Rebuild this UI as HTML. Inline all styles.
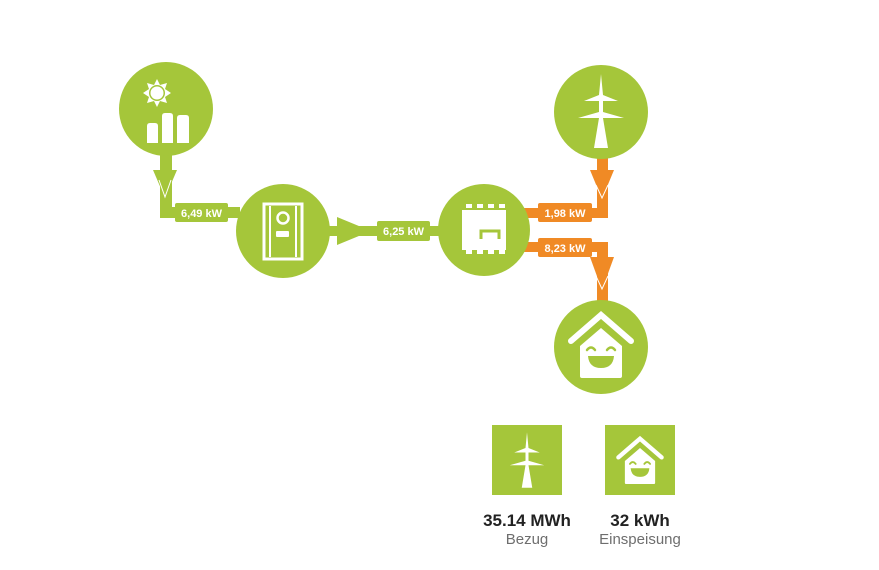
<!DOCTYPE html>
<html><head><meta charset="utf-8"><style>
html,body{margin:0;padding:0;background:#fff;width:879px;height:570px;overflow:hidden}
svg{display:block}
</style></head><body>
<svg width="879" height="570" viewBox="0 0 879 570" xmlns="http://www.w3.org/2000/svg" font-family="Liberation Sans, sans-serif">
<defs><style>.g{fill:#a5c63a}.o{fill:#f08a25}.w{fill:#fff}</style>
<g id="home">
<path d="M571,341 L601,315 L631,341" fill="none" stroke="#fff" stroke-width="6" stroke-linejoin="miter" stroke-linecap="round"/>
<path d="M580,346 L601,328 L622,346 V376 q0,2 -2,2 H582 q-2,0 -2,-2 Z" fill="#fff"/>
<path d="M587,350 q4,-5 8,0 M607,350 q4,-5 8,0" fill="none" stroke="#a5c63a" stroke-width="2.5" stroke-linecap="round"/>
<path d="M588,356 h26 q-1,12 -13,12 q-12,0 -13,-12 z" fill="#a5c63a"/>
</g>
<g id="pylon">
<polygon fill="#fff" points="601,74 603,95 618,101 603,101 603,112 624,118 603,118 608,148 594,148 599,118 578,118 599,112 599,101 584,101 599,95"/>
</g>
</defs>
<!-- solar -> inverter -->
<rect class="g" x="160" y="150" width="12" height="68"/>
<rect class="g" x="160" y="207" width="80" height="11"/>
<polygon class="g" points="153,170 177,170 165,198"/>
<polyline points="159,180 165,197 171,180" fill="none" stroke="#fff" stroke-width="1"/>
<rect class="g" x="175" y="203" width="53" height="19" rx="2"/>
<text x="201.5" y="217" font-size="11" font-weight="bold" fill="#fff" text-anchor="middle">6,49 kW</text>
<!-- inverter -> storage -->
<rect class="g" x="325" y="226" width="120" height="10"/>
<polygon class="g" points="337,217 371,231 337,245"/>
<rect class="g" x="377" y="221" width="53" height="20" rx="2"/>
<text x="403.5" y="235" font-size="11" font-weight="bold" fill="#fff" text-anchor="middle">6,25 kW</text>
<!-- grid -> storage (orange) -->
<rect class="o" x="597" y="150" width="11" height="68"/>
<rect class="o" x="520" y="208" width="88" height="10"/>
<polygon class="o" points="590,170 614,170 602,199"/>
<polyline points="596,185 602,198 608,185" fill="none" stroke="#fff" stroke-width="1"/>
<rect class="o" x="538" y="203" width="54" height="19" rx="2"/>
<text x="565" y="217" font-size="11" font-weight="bold" fill="#fff" text-anchor="middle">1,98 kW</text>
<!-- storage -> home -->
<rect class="o" x="520" y="242" width="88" height="10"/>
<rect class="o" x="597" y="242" width="11" height="65"/>
<polygon class="o" points="590,257 614,257 602,290"/>
<polyline points="596,276 602,289 608,276" fill="none" stroke="#fff" stroke-width="1"/>
<rect class="o" x="538" y="238" width="54" height="19" rx="2"/>
<text x="565" y="252" font-size="11" font-weight="bold" fill="#fff" text-anchor="middle">8,23 kW</text>
<!-- circles -->
<circle class="g" cx="166" cy="109" r="47"/>
<circle class="g" cx="283" cy="231" r="47"/>
<circle class="g" cx="484" cy="230" r="46"/>
<circle class="g" cx="601" cy="112" r="47"/>
<circle class="g" cx="601" cy="347" r="47"/>
<!-- solar icon -->
<polygon class="w" points="157,79 160,85 167,83 165,89 171,93 165,97 167,103 160,101 157,107 154,101 147,103 149,97 143,93 149,89 147,83 154,85"/>
<circle cx="157" cy="93" r="8" fill="#a5c63a"/>
<circle cx="157" cy="93" r="6.5" fill="#fff"/>
<path class="w" d="M147,143 V126 q0,-3 3,-3 h5 q3,0 3,3 V143 Z"/>
<path class="w" d="M162,143 V116 q0,-3 3,-3 h5 q3,0 3,3 V143 Z"/>
<path class="w" d="M177,143 V118 q0,-3 3,-3 h6 q3,0 3,3 V143 Z"/>
<!-- inverter icon -->
<path d="M264,204 h38 v55 h-38 z" fill="none" stroke="#fff" stroke-width="3"/>
<line x1="270" y1="206" x2="270" y2="257" stroke="#fff" stroke-width="2"/>
<line x1="296" y1="206" x2="296" y2="257" stroke="#fff" stroke-width="2"/>
<circle cx="283" cy="218" r="5.5" fill="none" stroke="#fff" stroke-width="2.5"/>
<rect class="w" x="276" y="231" width="13" height="6" rx="1"/>
<!-- storage icon -->
<rect class="w" x="462" y="207" width="44" height="46"/>
<rect x="462" y="207" width="44" height="3" fill="#a5c63a"/>
<rect x="466" y="204" width="6" height="4" class="w"/><rect x="477" y="204" width="6" height="4" class="w"/><rect x="488" y="204" width="6" height="4" class="w"/><rect x="499" y="204" width="6" height="4" class="w"/>
<rect x="462" y="250" width="44" height="3" fill="#a5c63a"/>
<rect x="466" y="250" width="6" height="4" class="w"/><rect x="477" y="250" width="6" height="4" class="w"/><rect x="488" y="250" width="6" height="4" class="w"/><rect x="499" y="250" width="6" height="4" class="w"/>
<path d="M481,239 v-8 h18 v8" fill="none" stroke="#a5c63a" stroke-width="3"/>
<!-- grid icon -->
<use href="#pylon"/>
<!-- home icon -->
<use href="#home"/>
<!-- bottom squares -->
<rect class="g" x="492" y="425" width="70" height="70"/>
<g transform="translate(527,460) scale(0.75) translate(-601,-111)"><use href="#pylon"/></g>
<rect class="g" x="605" y="425" width="70" height="70"/>
<g transform="translate(640,461) scale(0.72) translate(-601,-346)"><use href="#home"/></g>
<text x="527" y="526" font-size="17" font-weight="bold" fill="#222" text-anchor="middle">35.14 MWh</text>
<text x="527" y="544" font-size="15" fill="#6e6e6e" text-anchor="middle">Bezug</text>
<text x="640" y="526" font-size="17" font-weight="bold" fill="#222" text-anchor="middle">32 kWh</text>
<text x="640" y="544" font-size="15" fill="#6e6e6e" text-anchor="middle">Einspeisung</text>
</svg>
</body></html>
